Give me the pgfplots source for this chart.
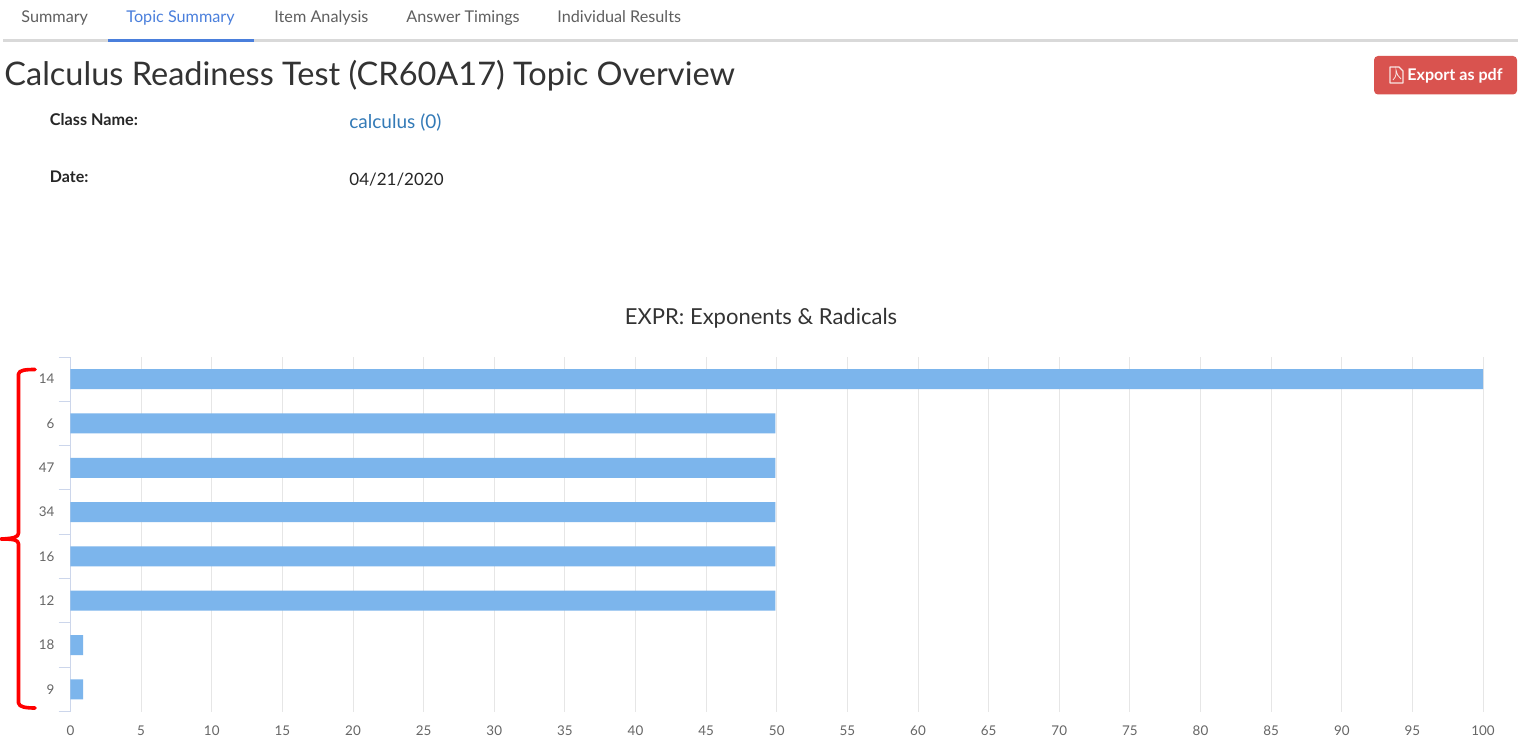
\documentclass[border=0pt]{standalone}
\usepackage{pgfplots}
\pgfplotsset{compat=1.18}
\usepackage{fontspec}
\setmainfont{Lato}
\definecolor{barblue}{HTML}{7CB5EC}
\definecolor{axisblue}{HTML}{CCD6EB}
\definecolor{gridgray}{HTML}{E6E6E6}
\definecolor{ticktxt}{HTML}{666666}
\definecolor{tabgray}{HTML}{5F5F5F}
\definecolor{tabblue}{HTML}{4A7FDC}
\definecolor{linkblue}{HTML}{337AB7}
\definecolor{titletxt}{HTML}{333333}
\definecolor{btnred}{HTML}{D9534F}
\newcommand{\fs}[1]{\fontsize{#1}{#1}\selectfont}
\begin{document}
\begin{tikzpicture}[x=0.5pt,y=-0.5pt]
\path[use as bounding box,fill=white] (0,0) rectangle (1518,743);
% tabs
\foreach \tx/\tl/\tc in {21/Summary/tabgray,126/Topic Summary/tabblue,274/Item Analysis/tabgray,406/Answer Timings/tabgray,557/Individual Results/tabgray}
  \node[anchor=base west,inner sep=0pt,text=\tc,font=\fs{8.1}] at (\tx,23) {\tl};
\fill[gray!30] (3,39.5) rectangle (1518,42);
\fill[tabblue] (108,39.5) rectangle (254,42);
% title
\node[anchor=base west,inner sep=0pt,text=titletxt,font=\fs{16.25}] at (4,86) {Calculus Readiness Test (CR60A17) Topic Overview};
% button
\fill[btnred,rounded corners=2pt] (1374,56) rectangle (1517,94.5);
\draw[white!85!btnred,line width=0.6pt,line join=round] (1390,67) -- (1399,67) -- (1403,71) -- (1403,83) -- (1390,83) -- cycle;
\draw[white!85!btnred,line width=0.4pt] (1393,80) .. controls (1397,76) and (1396,72) .. (1396,70) .. controls (1397,74) and (1398,77) .. (1401,79);
\node[anchor=base west,inner sep=0pt,text=white,font=\fs{8.05}\bfseries] at (1407,81) {Export as pdf};
% info
\node[anchor=base west,inner sep=0pt,text=black!85,font=\fs{8.1}\bfseries] at (49.5,126) {Class Name:};
\node[anchor=base west,inner sep=0pt,text=linkblue,font=\fs{9.5}] at (349,129) {calculus (0)};
\node[anchor=base west,inner sep=0pt,text=black!85,font=\fs{8}\bfseries] at (49.5,183) {Date:};
\node[anchor=base west,inner sep=0pt,text=black!85,font=\fs{8.5}] at (349,185) {04/21/2020};
% chart title
\node[anchor=base,inner sep=0pt,text=titletxt,font=\fs{11}] at (761,324) {EXPR: Exponents \& Radicals};
% chart
\begin{axis}[
  at={(35.25pt,-355.75pt)},anchor=south west,
  scale only axis,width=706.25pt,height=177.25pt,
  xmin=0,xmax=100,ymin=0,ymax=8,
  axis y line=left,axis x line=bottom,
  axis line style={-},
  y axis line style={draw=axisblue,line width=0.5pt},
  x axis line style={draw=none},
  xtick={0,5,...,100},
  ytick={0.5,1.5,...,7.5},
  yticklabels={9,18,12,16,34,47,6,14},
  minor ytick={0,1,...,8},
  xmajorgrids,
  major grid style={draw=gridgray,line width=0.5pt},
  major tick length=0pt,
  minor tick length=6pt,
  tick align=outside,
  every minor tick/.style={draw=axisblue,line width=0.5pt},
  every tick label/.append style={text=ticktxt,font=\fs{6.7}},
  /pgf/number format/assume math mode=true,
  xticklabel style={yshift=-3.5pt},
  yticklabel style={xshift=-4.5pt},
  clip=false,
]
\addplot[xbar,bar width=10pt,fill=barblue,draw=none] coordinates {
 (0.9,0.5) (0.9,1.5) (49.9,2.5) (49.9,3.5) (49.9,4.5) (49.9,5.5) (49.9,6.5) (100,7.5)};
\end{axis}
% red bracket annotation
\draw[red,line width=1.8pt,line cap=round,line join=round]
 (35,369.5) .. controls (26,369.5) and (19,370) .. (18.5,374) -- (18.5,533)
 .. controls (18.5,537) and (14,538.5) .. (1,539)
 .. controls (14,539) and (18.5,540) .. (18.5,544) -- (18.5,703)
 .. controls (19,707) and (26,708) .. (35,708);
\end{tikzpicture}
\end{document}
